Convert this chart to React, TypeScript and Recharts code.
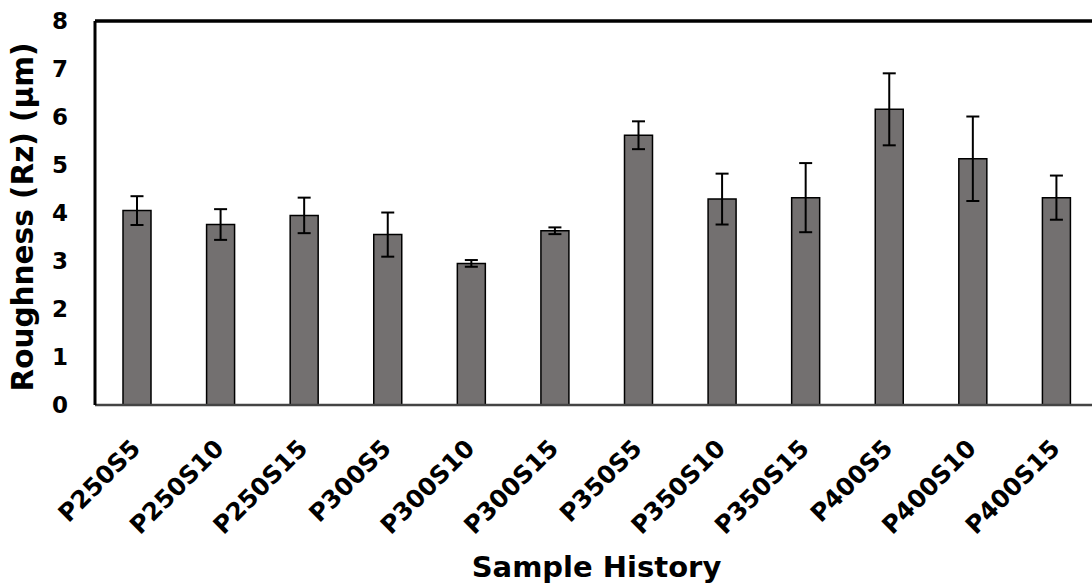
import React from 'react';
import { BarChart, Bar, XAxis, YAxis, ErrorBar, ReferenceLine } from 'recharts';

const samples = ['P250S5', 'P250S10', 'P250S15', 'P300S5', 'P300S10', 'P300S15', 'P350S5', 'P350S10', 'P350S15', 'P400S5', 'P400S10', 'P400S15'];
const roughness = [4.05, 3.76, 3.95, 3.55, 2.95, 3.63, 5.62, 4.29, 4.32, 6.16, 5.13, 4.32];
const stdDev = [0.3, 0.32, 0.37, 0.46, 0.07, 0.07, 0.29, 0.53, 0.72, 0.75, 0.88, 0.46];
const yTicks = [0, 1, 2, 3, 4, 5, 6, 7, 8];

const data = samples.map((name, i) => ({ name, rz: roughness[i], err: stdDev[i] }));

const FONT = '"DejaVu Sans", "Liberation Sans", Arial, sans-serif';

const SampleTick = (props: any) => {
  const { x, payload } = props;
  const tx = x + 5;
  const ty = 450;
  return (
    <text
      x={tx}
      y={ty}
      textAnchor="end"
      transform={`rotate(-45, ${tx}, ${ty})`}
      fontFamily={FONT}
      fontWeight="bold"
      fontSize={24.5}
      fill="#000"
    >
      {payload.value}
    </text>
  );
};

const RoughnessChart: React.FC = () => {
  return (
    <div style={{ position: 'fixed', top: 0, left: 0, width: 1092, height: 586, overflow: 'hidden', background: '#fff' }}>
      <BarChart width={1100} height={586} data={data} margin={{ top: 21, right: 2, left: 0, bottom: 0 }}>
        <XAxis
          dataKey="name"
          height={181}
          interval={0}
          tickLine={false}
          axisLine={{ stroke: '#444', strokeWidth: 2.5 }}
          tick={<SampleTick />}
          label={(p: any) => {
            const vb = p.viewBox;
            return (
              <text
                x={vb.x + vb.width / 2}
                y={577}
                textAnchor="middle"
                fontFamily={FONT}
                fontWeight="bold"
                fontSize={29}
                fill="#000"
              >
                Sample History
              </text>
            );
          }}
        />
        <YAxis
          width={95}
          domain={[0, 8]}
          ticks={yTicks}
          interval={0}
          tickLine={false}
          tickSize={0}
          tickMargin={27}
          axisLine={{ stroke: '#000', strokeWidth: 3 }}
          tick={{ fontFamily: FONT, fontWeight: 'bold', fontSize: 23, fill: '#000' }}
          label={(p: any) => {
            const vb = p.viewBox;
            const lx = 33;
            const ly = vb.y + vb.height / 2 + 4;
            return (
              <text
                x={lx}
                y={ly}
                textAnchor="middle"
                transform={`rotate(-90, ${lx}, ${ly})`}
                fontFamily={FONT}
                fontWeight="bold"
                fontSize={29.5}
                fill="#000"
              >
                Roughness (Rz) (µm)
              </text>
            );
          }}
        />
        {/* top frame of the plot area */}
        <ReferenceLine y={8} stroke="#000" strokeWidth={3.5} ifOverflow="visible" />
        <Bar dataKey="rz" barSize={28} fill="#737070" stroke="#000" strokeWidth={1.5} isAnimationActive={false}>
          <ErrorBar dataKey="err" width={6.5} stroke="#000" strokeWidth={2} direction="y" />
        </Bar>
      </BarChart>
    </div>
  );
};

export default function App() {
  return <RoughnessChart />;
}
